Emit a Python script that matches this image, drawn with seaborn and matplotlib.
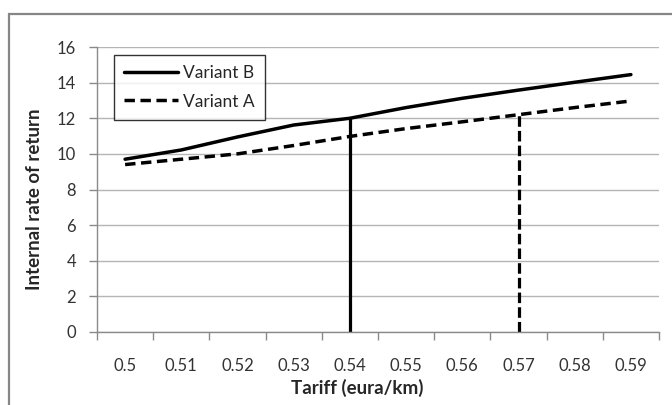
import matplotlib
matplotlib.use("Agg")
import matplotlib.pyplot as plt
import matplotlib.patches as mpatches
import seaborn as sns
import pandas as pd

tariffs = ["0.5", "0.51", "0.52", "0.53", "0.54", "0.55", "0.56", "0.57", "0.58", "0.59"]
variant_b = [9.70, 10.22, 10.95, 11.62, 12.00, 12.60, 13.12, 13.58, 14.02, 14.45]
variant_a = [9.40, 9.70, 10.00, 10.47, 10.98, 11.42, 11.80, 12.20, 12.60, 12.97]
# break-even tariffs marked with drop lines
b_mark = "0.54"
a_mark = "0.57"

sns.set_theme(style="white")
plt.rcParams["font.family"] = ["Lato", "DejaVu Sans"]

pos = list(range(len(tariffs)))
df = pd.DataFrame({
    "pos": pos * 2,
    "irr": variant_b + variant_a,
    "series": ["Variant B"] * len(tariffs) + ["Variant A"] * len(tariffs),
})

fig = plt.figure(figsize=(6.72, 4.05), dpi=100)
ax = fig.add_axes([97 / 672, 1 - 332 / 405, (659 - 97) / 672, (332 - 47) / 405])

# outer chart frame
frame = mpatches.Rectangle((9 / 672, -0.2), 2.0, 1.2 - 14 / 405,
                           transform=fig.transFigure, fill=False,
                           edgecolor="#868686", linewidth=1.6, zorder=0)
fig.patches.append(frame)

line_dash = (3.0, 1.6)
sns.lineplot(data=df, x="pos", y="irr", hue="series", style="series",
             palette={"Variant B": "black", "Variant A": "black"},
             dashes={"Variant B": "", "Variant A": line_dash},
             linewidth=2.5, ax=ax, legend=False)

ib = tariffs.index(b_mark)
ia = tariffs.index(a_mark)
ax.vlines(pos[ib], 0, variant_b[ib], color="black", linewidth=2.3)
ax.vlines(pos[ia], 0, variant_a[ia], color="black", linewidth=2.3,
          linestyles=(0, (3.3, 1.3)))

ax.set_xlim(-0.5, len(tariffs) - 0.5)
ax.set_ylim(0, 16)
ax.set_yticks(range(0, 17, 2))
ax.set_yticklabels([str(v) for v in range(0, 17, 2)], fontsize=12, color="#333333")
ax.set_xticks(pos)
ax.set_xticklabels(tariffs, fontsize=12, color="#333333")
ax.set_xticks([p - 0.5 for p in pos] + [len(tariffs) - 0.5], minor=True)
ax.tick_params(axis="x", which="major", length=0, pad=19)
ax.tick_params(axis="x", which="minor", length=6, width=1, color="#8a8a8a", direction="out", bottom=True)
ax.tick_params(axis="y", length=6, width=1, color="#8a8a8a", direction="out", left=True, pad=9)

ax.grid(axis="y", color="#b5b5b5", linewidth=1)
ax.set_axisbelow(True)
for side in ["top", "right"]:
    ax.spines[side].set_visible(False)
for side in ["left", "bottom"]:
    ax.spines[side].set_color("#8a8a8a")
    ax.spines[side].set_linewidth(1)

ax.set_xlabel("Tariff (eura/km)", fontsize=13.5, fontweight="bold", va="center")
ax.xaxis.set_label_coords(0.463, -0.196)
ax.set_ylabel("Internal rate of return", fontsize=13.5, fontweight="bold", va="center")
ax.yaxis.set_label_coords(-0.112, 0.465)

handles = [
    plt.Line2D([], [], color="black", linewidth=2.5),
    plt.Line2D([], [], color="black", linewidth=2.5, linestyle=(0, line_dash)),
]
leg = ax.legend(handles, ["Variant B", "Variant A"], loc="upper left",
                bbox_to_anchor=(17 / 562, 1 - 8 / 285), fontsize=12.5, frameon=True,
                fancybox=False, handlelength=3.1, handletextpad=0.3,
                borderpad=0.6, labelspacing=0.7, borderaxespad=0)
leg.get_frame().set_edgecolor("black")
leg.get_frame().set_linewidth(1)

fig.savefig("out.png", dpi=100)
